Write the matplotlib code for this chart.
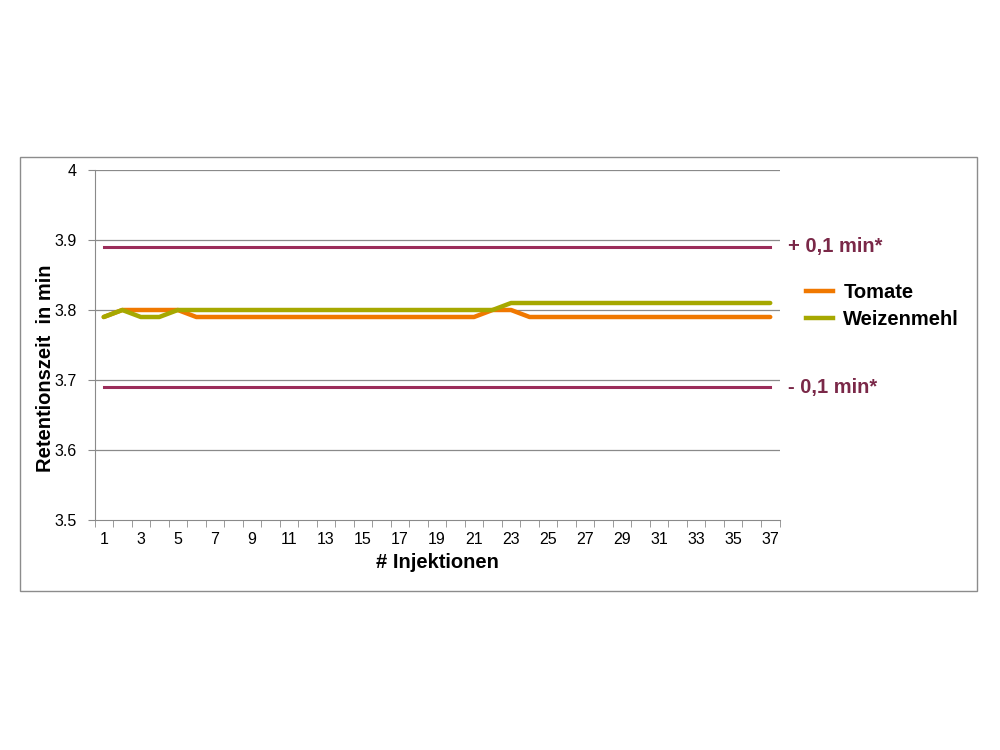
import matplotlib
matplotlib.use("Agg")
import matplotlib.pyplot as plt
from matplotlib.patches import Rectangle
from matplotlib.lines import Line2D

plt.rcParams['font.family'] = ['Liberation Sans', 'DejaVu Sans']

injections = list(range(1, 38))
tomate = [3.79, 3.80, 3.80, 3.80, 3.80] + [3.79] * 16 + [3.80, 3.80] + [3.79] * 14
weizenmehl = [3.79, 3.80, 3.79, 3.79, 3.80] + [3.80] * 17 + [3.81] * 15
upper_limit = 3.89
lower_limit = 3.69
xtick_labels = [str(i) for i in range(1, 38, 2)]
yticks = [3.5, 3.6, 3.7, 3.8, 3.9, 4.0]
ytick_labels = ["3.5", "3.6", "3.7", "3.8", "3.9", "4"]

c_tom = '#F07800'
c_wei = '#A6A800'
c_lim = '#9B2D5A'
c_txt = '#7A2848'

fig = plt.figure(figsize=(10, 7.5), dpi=100)
fig.patches.append(Rectangle((0.020, 1 - 591/750), 0.957, (591-157)/750,
                             transform=fig.transFigure, fill=False,
                             edgecolor='#8c8c8c', linewidth=1.0))

ax = fig.add_axes([0.0945, 1 - 520/750, 0.685, 350/750])
ax.set_xlim(0.5, 37.5)
ax.set_ylim(3.5, 4.0)

for y in yticks[1:]:
    ax.axhline(y, color='#8a8a8a', linewidth=0.9, zorder=1)

ax.plot(injections, [upper_limit] * len(injections), color=c_lim, linewidth=2.2, zorder=2)
ax.plot(injections, [lower_limit] * len(injections), color=c_lim, linewidth=2.2, zorder=2)
ax.plot(injections, tomate, color=c_tom, linewidth=3.2, zorder=3, solid_capstyle='round')
ax.plot(injections, weizenmehl, color=c_wei, linewidth=3.2, zorder=4, solid_capstyle='round')

for s in ['top', 'right']:
    ax.spines[s].set_visible(False)
ax.spines['left'].set_color('#8a8a8a')
ax.spines['bottom'].set_color('#8a8a8a')

ax.set_yticks(yticks)
ax.set_yticklabels(ytick_labels, fontsize=11.5)
ax.set_xticks(list(range(1, 38, 2)))
ax.set_xticklabels(xtick_labels, fontsize=11.5)
ax.tick_params(axis='x', which='major', length=0, pad=9)
ax.set_xticks([i + 0.5 for i in range(0, 38)], minor=True)
ax.tick_params(axis='x', which='minor', length=5, color='#8a8a8a', direction='out')
ax.tick_params(axis='y', length=5, color='#8a8a8a', direction='out', pad=8)

fig.text(437/1000, 1 - 562/750, '# Injektionen', fontsize=14.5, fontweight='bold',
         ha='center', va='center')
fig.text(46/1000, 1 - 368/750, 'Retentionszeit  in min', fontsize=14.5,
         fontweight='bold', ha='center', va='center', rotation=90)

fig.text(788/1000, 1 - 247/750, '+ 0,1 min*', color=c_txt, fontsize=14.5,
         fontweight='bold', va='center', ha='left')
fig.text(788/1000, 1 - 387/750, '- 0,1 min*', color=c_txt, fontsize=14.5,
         fontweight='bold', va='center', ha='left')

handles = [Line2D([], [], color=c_tom, linewidth=3.2),
           Line2D([], [], color=c_wei, linewidth=3.2)]
fig.legend(handles, ['Tomate', 'Weizenmehl'], loc='center left',
           bbox_to_anchor=(788/1000, 1 - 306/750), frameon=False,
           prop={'size': 14.5, 'weight': 'bold'}, handlelength=1.35,
           handletextpad=0.5, labelspacing=0.42)

fig.savefig('out.png', dpi=100, facecolor='white')
